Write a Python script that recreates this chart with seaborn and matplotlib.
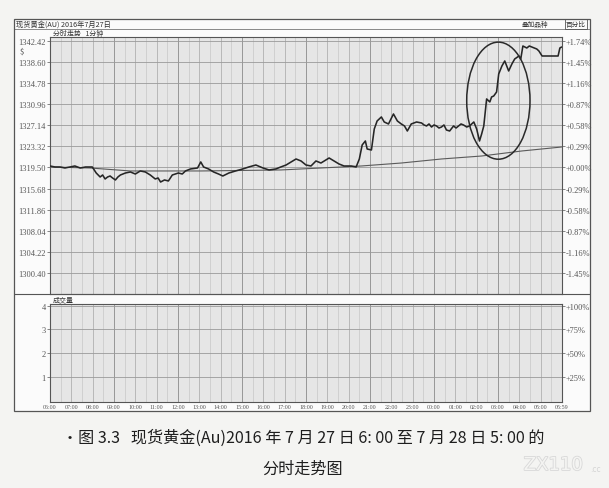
import numpy as np
import pandas as pd
import matplotlib.pyplot as plt
import seaborn as sns
from matplotlib.patches import Ellipse, Rectangle
from matplotlib.lines import Line2D
import matplotlib.patheffects as pe

# minutes after 06:00 (27 Jul) and spot gold price
t_min = [0, 14, 28, 42, 56, 70, 85, 100, 119, 130, 141, 148, 155, 162, 169, 176,
         184, 191, 198, 212, 226, 240, 254, 268, 282, 296, 304, 311, 322, 333,
         344, 361, 372, 381, 395, 415, 424, 432, 446, 460, 474, 486, 503, 522,
         542, 559, 579, 599, 616, 635, 649, 664, 678, 692, 706, 720, 734, 748,
         762, 776, 785, 799, 813, 827, 847, 861, 870, 878, 887, 892, 904, 912,
         920, 932, 940, 952, 966, 977, 988, 997, 1005, 1016, 1031, 1045, 1052,
         1059, 1066, 1073, 1080, 1087, 1094, 1101, 1108, 1115, 1124, 1135, 1142,
         1149, 1156, 1163, 1172, 1180, 1192, 1200, 1208, 1214, 1220, 1228, 1237,
         1242, 1248, 1256, 1262, 1271, 1279, 1290, 1299, 1307, 1319, 1324, 1330,
         1341, 1348, 1355, 1362, 1369, 1375, 1384, 1398, 1412, 1429, 1434, 1439]
price = [1319.77, 1319.59, 1319.59, 1319.41, 1319.59, 1319.77, 1319.41, 1319.59,
         1319.59, 1318.50, 1317.78, 1318.14, 1317.42, 1317.78, 1317.96, 1317.60,
         1317.24, 1317.78, 1318.14, 1318.50, 1318.69, 1318.32, 1318.87, 1318.69,
         1318.14, 1317.42, 1317.60, 1316.87, 1317.24, 1317.06, 1318.14, 1318.50,
         1318.32, 1318.87, 1319.23, 1319.41, 1320.50, 1319.59, 1319.23, 1318.69,
         1318.32, 1317.96, 1318.50, 1318.87, 1319.23, 1319.59, 1319.95, 1319.41,
         1319.05, 1319.23, 1319.59, 1319.95, 1320.50, 1321.04, 1320.68, 1319.95,
         1319.77, 1320.68, 1320.31, 1320.86, 1321.22, 1320.68, 1320.13, 1319.77,
         1319.77, 1319.59, 1321.04, 1323.58, 1324.30, 1322.85, 1322.67, 1326.47,
         1327.92, 1328.65, 1327.74, 1327.38, 1329.19, 1327.92, 1327.38, 1327.02,
         1326.11, 1327.38, 1327.74, 1327.56, 1327.20, 1327.02, 1327.38, 1326.83,
         1327.20, 1327.02, 1326.65, 1326.83, 1327.20, 1326.29, 1326.11, 1327.02,
         1326.65, 1327.02, 1327.38, 1327.20, 1326.83, 1327.02, 1327.74, 1326.47,
         1324.30, 1325.57, 1327.02, 1331.91, 1331.37, 1332.27, 1332.45, 1333.17,
         1336.43, 1337.88, 1338.79, 1336.98, 1338.24, 1339.15, 1339.69, 1339.15,
         1341.50, 1341.14, 1341.50, 1341.32, 1341.14, 1340.96, 1340.60, 1339.69,
         1339.69, 1339.69, 1339.69, 1341.14, 1341.32]

# running average line
avg_t_min = [0, 113, 226, 424, 649, 819, 875, 988, 1101, 1214, 1327, 1439]
avg_price = [1319.59, 1319.41, 1318.87, 1318.87, 1319.05, 1319.59, 1319.77,
             1320.31, 1321.04, 1321.58, 1322.49, 1323.21]

price_ticks = [1342.42, 1338.60, 1334.78, 1330.96, 1327.14, 1323.32, 1319.50,
               1315.68, 1311.86, 1308.04, 1304.22, 1300.40]
pct_labels = ['+1.74%', '+1.45%', '+1.16%', '+0.87%', '+0.58%', '+0.29%',
              '+0.00%', '-0.29%', '-0.58%', '-0.87%', '-1.16%', '-1.45%']
vol_ticks = [1, 2, 3, 4]
vol_pct_labels = ['+25%', '+50%', '+75%', '+100%']
hour_ticks = list(range(0, 1440, 60)) + [1439]
hour_labels = ['06:00', '07:00', '08:00', '09:00', '10:00', '11:00', '12:00',
               '13:00', '14:00', '15:00', '16:00', '17:00', '18:00', '19:00',
               '20:00', '21:00', '22:00', '23:00', '00:00', '01:00', '02:00',
               '03:00', '04:00', '05:00', '05:59']

df = pd.DataFrame({'t': t_min, 'price': price})
df_avg = pd.DataFrame({'t': avg_t_min, 'price': avg_price})

sns.set_theme(style='white')
plt.rcParams['font.family'] = ['Noto Sans CJK SC', 'DejaVu Sans']

W, H = 609, 489
fig = plt.figure(figsize=(W / 100, H / 100), dpi=100, facecolor='#f4f4f2')

def fx(px):
    return px / W

def fy(py):
    return 1 - py / H

def box(x0, y0, x1, y1, **kw):
    fig.add_artist(Rectangle((fx(x0), fy(y1)), fx(x1) - fx(x0), fy(y0) - fy(y1),
                             transform=fig.transFigure, **kw))

def hline(y, x0, x1, **kw):
    fig.add_artist(Line2D([fx(x0), fx(x1)], [fy(y), fy(y)],
                          transform=fig.transFigure, **kw))

# terminal frame
box(14, 20, 590, 412, facecolor='#fbfbfb', edgecolor='none', zorder=-2)
box(14, 20, 590, 412, fill=False, edgecolor='#555555', lw=0.9, zorder=3)
hline(30, 14, 590, color='#777777', lw=0.6)
hline(295, 14, 590, color='#555555', lw=0.8)

tick_font = dict(family='Liberation Serif', size=6, color='#555555')
grid_bg = '#e6e6e6'

ax_p = fig.add_axes([fx(50), fy(294.5), fx(562) - fx(50), fy(38) - fy(294.5)])
ax_v = fig.add_axes([fx(50), fy(403.3), fx(562) - fx(50), fy(305) - fy(403.3)])

for ax in (ax_p, ax_v):
    ax.set_facecolor(grid_bg)
    ax.set_xlim(0, 1440)
    for m in range(30, 1440, 30):
        if m % 180 == 0:
            c, lw = '#8a8a8a', 0.6
        elif m % 60 == 0:
            c, lw = '#a6a6a6', 0.5
        else:
            c, lw = '#c4c4c4', 0.45
        ax.axvline(m, color=c, lw=lw, zorder=0.5)
    for s in ax.spines.values():
        s.set_color('#555555')
        s.set_linewidth(0.8)

# price panel
ax_p.set_ylim(1296.68, 1343.13)
for v in price_ticks:
    ax_p.axhline(v, color='#9a9a9a', lw=0.6, zorder=0.5)
sns.lineplot(data=df_avg, x='t', y='price', ax=ax_p, color='#5a5a5a', lw=0.8,
             estimator=None, zorder=3)
sns.lineplot(data=df, x='t', y='price', ax=ax_p, color='#262626', lw=1.15,
             estimator=None, zorder=4)
ax_p.add_patch(Ellipse((1261, 1331.6), width=178, height=21.2, fill=False,
                       ec='#2a2a2a', lw=1.1, zorder=5))
ax_p.set_xticks([])
ax_p.set_yticks(price_ticks)
ax_p.set_yticklabels([f'{v:.2f}' for v in price_ticks], fontdict=tick_font)
ax_p.tick_params(axis='y', length=2, width=0.5, pad=1, colors='#555555')
ax_p.set_xlabel('')
ax_p.set_ylabel('')

axr = ax_p.twinx()
axr.set_ylim(ax_p.get_ylim())
axr.set_yticks(price_ticks)
axr.set_yticklabels(pct_labels, fontdict=tick_font)
axr.tick_params(axis='y', length=2, width=0.5, pad=0.5, colors='#555555')
for s in axr.spines.values():
    s.set_visible(False)

# volume panel (no visible volume)
ax_v.set_ylim(-0.08, 4.07)
for v in vol_ticks:
    ax_v.axhline(v, color='#9a9a9a', lw=0.6, zorder=0.5)
ax_v.set_yticks(vol_ticks)
ax_v.set_yticklabels([str(v) for v in vol_ticks], fontdict=tick_font)
ax_v.set_xticks(hour_ticks)
ax_v.set_xticklabels(hour_labels, fontdict=dict(family='Liberation Serif', size=4.3,
                                                color='#555555'))
ax_v.tick_params(axis='x', length=0, pad=1.2)
ax_v.tick_params(axis='y', length=2, width=0.5, pad=1, colors='#555555')

axvr = ax_v.twinx()
axvr.set_ylim(ax_v.get_ylim())
axvr.set_yticks(vol_ticks)
axvr.set_yticklabels(vol_pct_labels, fontdict=tick_font)
axvr.tick_params(axis='y', length=2, width=0.5, pad=0.5, colors='#555555')
for s in axvr.spines.values():
    s.set_visible(False)

# header texts
fig.text(fx(16), fy(25), '现货黄金(AU) 2016年7月27日', fontsize=5.2, color='#333333',
         va='center', ha='left')
fig.text(fx(53), fy(34), '分时走势   1分钟', fontsize=5, color='#333333',
         va='center', ha='left')
fig.text(fx(535), fy(25), '叠加品种', fontsize=4.8, color='#333333',
         va='center', ha='center')
fig.text(fx(576), fy(25), '百分比', fontsize=4.8, color='#333333', va='center',
         ha='center', bbox=dict(boxstyle='square,pad=0.15', fc='none',
                                ec='#555555', lw=0.6))
fig.text(fx(20), fy(52), '$', fontsize=5.5, color='#444444', va='center')
fig.text(fx(53), fy(300), '成交量', fontsize=5, color='#333333', va='center',
         ha='left')

# caption
fig.text(fx(303), fy(438),
         '•图 3.3   现货黄金(Au)2016 年 7 月 27 日 6: 00 至 7 月 28 日 5: 00 的',
         fontsize=11.6, color='#1e1e1e', ha='center', va='center',
         family=['Noto Sans CJK SC', 'DejaVu Sans'])
fig.text(fx(303), fy(469), '分时走势图', fontsize=11.6, color='#1e1e1e',
         ha='center', va='center')

# faint watermark
fig.text(fx(553), fy(466), 'ZX110', fontsize=13, color='#f4f4f2', ha='center',
         va='center', family='DejaVu Sans',
         path_effects=[pe.withStroke(linewidth=1.2, foreground='#d8d8d8')])
fig.text(fx(595), fy(470), '.cc', fontsize=5.5, color='#d4d4d4', ha='center',
         va='center', family='DejaVu Sans')

fig.savefig('out.png', dpi=100, facecolor=fig.get_facecolor())
